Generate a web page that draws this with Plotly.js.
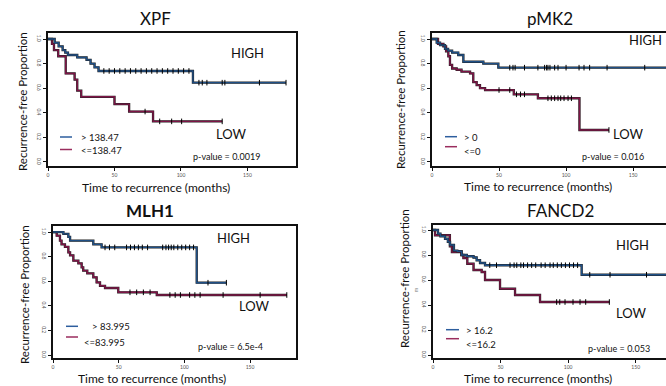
<!DOCTYPE html>
<html>
<head>
<meta charset="utf-8">
<script src="https://cdn.plot.ly/plotly-3.0.1.min.js"></script>
<style>
html,body{margin:0;padding:0;overflow:hidden;background:#fff;}
#chart{width:700px;height:386px;}
</style>
</head>
<body>
<div id="chart"></div>
<script>
// ---------------- data ----------------
const panelTitles = ["XPF", "pMK2", "MLH1", "FANCD2"];
const highLabels = ["> 138.47", "> 0", "> 83.995", "> 16.2"];
const lowLabels = ["<=138.47", "<=0", "<=83.995", "<=16.2"];
const pValues = ["p-value = 0.0019", "p-value = 0.016", "p-value = 6.5e-4", "p-value = 0.053"];
const xTicks = [0, 50, 100, 150];
const yTicks = [0, 0.2, 0.4, 0.6, 0.8, 1.0];
const yTickText = ["0.0", "0.2", "0.4", "0.6", "0.8", "1.0"];

// XPF
const xpfHighT = [0, 5, 8, 11, 13, 15, 22, 29, 32, 35, 38, 109, 179];
const xpfHighS = [1, 0.97, 0.94, 0.91, 0.89, 0.87, 0.85, 0.83, 0.80, 0.77, 0.74, 0.645, 0.645];
const xpfHighCens = [42, 46, 50, 54, 58, 62, 66, 70, 74, 78, 82, 86, 90, 94, 98, 102, 106, 113.5, 116, 119.5, 131, 133, 159, 179];
const xpfLowT = [0, 3, 4.5, 7.7, 13.3, 20, 22, 25, 50, 61, 79, 131];
const xpfLowS = [1, 0.96, 0.91, 0.86, 0.72, 0.67, 0.58, 0.53, 0.47, 0.41, 0.33, 0.33];
const xpfLowCens = [73, 84, 93, 100.5, 131];

// pMK2
const mk2HighT = [0, 3.5, 6, 9.7, 12, 15, 19.6, 23.4, 38.3, 49.5, 180];
const mk2HighS = [1, 0.97, 0.95, 0.92, 0.905, 0.89, 0.87, 0.815, 0.80, 0.767, 0.767];
const mk2HighCens = [58, 60.4, 62, 69, 79, 84, 85.5, 86.5, 88, 91.5, 94, 100, 109.7, 113.4, 117.6, 130.6, 158.7];
const mk2LowT = [0, 4.5, 8.5, 10.5, 12.2, 13.4, 15, 18.4, 22, 28.4, 30.8, 33.3, 35.8, 39.6, 61, 79, 110, 132];
const mk2LowS = [1, 0.96, 0.94, 0.90, 0.86, 0.79, 0.76, 0.75, 0.735, 0.72, 0.65, 0.625, 0.60, 0.585, 0.55, 0.518, 0.26, 0.26];
const mk2LowCens = [50, 58, 63, 66, 69, 86.5, 89, 91.5, 94, 96, 98.5, 101.5, 104, 132];

// MLH1
const mlhHighT = [0, 7.9, 11.7, 13, 30.7, 37, 109.4, 132];
const mlhHighS = [1, 0.985, 0.96, 0.93, 0.90, 0.875, 0.588, 0.588];
const mlhHighCens = [39.6, 43, 47, 56, 59, 62, 65, 68, 72, 83.5, 86, 88, 90, 92, 95, 98, 101, 104, 107, 118, 132];
const mlhLowT = [0, 2.8, 5.3, 6.5, 9.1, 11.7, 13, 15.5, 19.3, 21.8, 23, 26.1, 30.7, 33.2, 35.8, 39.6, 49.7, 79, 178];
const mlhLowS = [1, 0.97, 0.93, 0.90, 0.88, 0.834, 0.81, 0.767, 0.745, 0.713, 0.686, 0.664, 0.632, 0.59, 0.563, 0.545, 0.51, 0.488, 0.488];
const mlhLowCens = [58.6, 63.7, 68.8, 73.9, 89, 93, 97, 104, 108, 112, 129.5, 157.7, 178];

// FANCD2
const fanHighT = [0, 3.7, 5.5, 8.9, 11, 12.6, 15.5, 18, 21.2, 25, 30, 32.3, 34.8, 38.5, 110, 182];
const fanHighS = [1, 0.97, 0.95, 0.93, 0.905, 0.88, 0.835, 0.83, 0.80, 0.79, 0.78, 0.758, 0.736, 0.718, 0.642, 0.642];
const fanHighCens = [42, 47, 57, 60, 62, 65, 67, 70, 73, 76, 80, 83, 86.6, 89, 92, 95, 98, 101, 104, 107, 116, 131, 158];
const fanLowT = [0, 1.5, 12.5, 14, 21, 22.5, 25.4, 30, 36, 38.5, 49.6, 60.7, 79.2, 130.5];
const fanLowS = [1, 0.958, 0.87, 0.824, 0.80, 0.776, 0.73, 0.68, 0.664, 0.60, 0.53, 0.48, 0.424, 0.424];
const fanLowCens = [91.5, 93.8, 97.7, 103.6, 108.8, 113, 130.5];

// ---------------- drawing ----------------
const W = 700, H = 386;
const FONT = 'Lato, "Open Sans", sans-serif';
const BLUE = '#1f4f85', RED = '#7d1546';
const LEG_BLUE = '#2d5e9e', LEG_RED = '#9a2d5e';
const px = v => v / W;
const py = v => (H - v) / H;

function stepAt(ts, ss, t) {
  let s = ss[0];
  for (let i = 0; i < ts.length; i++) { if (ts[i] <= t) s = ss[i]; }
  return s;
}

const panels = [
  {hT: xpfHighT, hS: xpfHighS, hC: xpfHighCens, lT: xpfLowT, lS: xpfLowS, lC: xpfLowCens},
  {hT: mk2HighT, hS: mk2HighS, hC: mk2HighCens, lT: mk2LowT, lS: mk2LowS, lC: mk2LowCens},
  {hT: mlhHighT, hS: mlhHighS, hC: mlhHighCens, lT: mlhLowT, lS: mlhLowS, lC: mlhLowCens},
  {hT: fanHighT, hS: fanHighS, hC: fanHighCens, lT: fanLowT, lS: fanLowS, lC: fanLowCens}
];

// layout geometry in pixels (plot box left/right/top/bottom, x range, y range)
const geo = [
  {l: 48, r: 296, t: 33, b: 166, xr: [0, 186.5], yr: [-0.033, 1.049]},
  {l: 432, r: 682, t: 33, b: 166, xr: [0, 186.5], yr: [-0.033, 1.049]},
  {l: 53, r: 296, t: 226, b: 358, xr: [0, 185], yr: [-0.024, 1.049]},
  {l: 433, r: 683, t: 225, b: 358, xr: [0, 185], yr: [-0.024, 1.04]}
];

const traces = [];
panels.forEach((p, i) => {
  const xa = i === 0 ? 'x' : 'x' + (i + 1);
  const ya = i === 0 ? 'y' : 'y' + (i + 1);
  [[p.lT, p.lS, p.lC, RED], [p.hT, p.hS, p.hC, BLUE]].forEach(([T, S, C, col]) => {
    traces.push({x: T, y: S, xaxis: xa, yaxis: ya, mode: 'lines', line: {shape: 'hv', color: '#222', width: 2.3}, hoverinfo: 'skip', showlegend: false});
    traces.push({x: T, y: S, xaxis: xa, yaxis: ya, mode: 'lines', line: {shape: 'hv', color: col, width: 1.4}, showlegend: false});
    traces.push({x: C, y: C.map(t => stepAt(T, S, t)), xaxis: xa, yaxis: ya, mode: 'markers',
      marker: {symbol: 'line-ns-open', size: 4, color: '#000', line: {color: '#000', width: 1}}, showlegend: false});
  });
});

const layout = {
  width: W, height: H,
  margin: {l: 0, r: 0, t: 0, b: 0},
  paper_bgcolor: '#fff', plot_bgcolor: '#fff',
  font: {family: FONT, color: '#111'},
  showlegend: false,
  annotations: [], shapes: []
};

geo.forEach((g, i) => {
  const xk = i === 0 ? 'xaxis' : 'xaxis' + (i + 1);
  const yk = i === 0 ? 'yaxis' : 'yaxis' + (i + 1);
  const xa = i === 0 ? 'x' : 'x' + (i + 1);
  const ya = i === 0 ? 'y' : 'y' + (i + 1);
  layout[xk] = {domain: [px(g.l), px(g.r)], range: g.xr, anchor: ya,
    showline: true, linecolor: '#111', linewidth: 1.8, mirror: true,
    ticks: 'outside', ticklen: 3, tickwidth: 1, tickcolor: '#111',
    tickvals: xTicks, tickfont: {size: 5, color: '#555'},
    showgrid: false, zeroline: false, fixedrange: true};
  layout[yk] = {domain: [py(g.b), py(g.t)], range: g.yr, anchor: xa,
    showline: true, linecolor: '#111', linewidth: 1.8, mirror: true,
    ticks: 'outside', ticklen: 3, tickwidth: 1, tickcolor: '#111',
    tickvals: yTicks, ticktext: yTickText, tickangle: 90, tickfont: {size: 5, color: '#555'},
    showgrid: false, zeroline: false, fixedrange: true};
});

// text positions (pixels)
const titlePos = [[155, 18], [550, 18], [150, 211], [560, 211]];
const xTitlePos = [[156, 188], [538, 186], [152, 378], [538, 378]];
const yTitlePos = [[22, 102], [400, 100], [24, 295], [404, 279]];
const highPos = [[248, 53], [645, 40], [233, 238], [632, 244.5]];
const lowPos = [[231, 134], [628, 134], [254, 306], [631, 312.5]];
const pPos = [[226, 156.5], [613, 156.5], [230, 346], [619, 348.5]];
// legend: [lineX0, lineX1, blueY, redY, blueTextX, blueTextY, redTextX, redTextY]
const legPos = [
  [60, 72, 137, 149.5, 79, 137.5, 79, 151],
  [445, 457, 136.7, 146.7, 462, 137, 462, 151.7],
  [66, 78, 326.3, 337, 90, 326.5, 82, 342],
  [446, 459, 329.7, 338.7, 463.5, 330, 463.5, 344.7]
];

const A = layout.annotations, Sh = layout.shapes;
function txt(text, x, y, size, opts) {
  A.push(Object.assign({text: text, x: px(x), y: py(y), xref: 'paper', yref: 'paper',
    showarrow: false, xanchor: 'center', yanchor: 'middle',
    font: {family: FONT, size: size, color: '#111'}}, opts || {}));
}
panelTitles.forEach((t, i) => {
  txt(i === 2 ? '<b>' + t + '</b>' : t, titlePos[i][0], titlePos[i][1], 17);
  txt('Time to recurrence (months)', xTitlePos[i][0], xTitlePos[i][1], 12);
  txt('Recurrence-free Proportion', yTitlePos[i][0], yTitlePos[i][1], 11.5, {textangle: -90});
  txt('HIGH', highPos[i][0], highPos[i][1], 13);
  txt('LOW', lowPos[i][0], lowPos[i][1], 13);
  txt(pValues[i], pPos[i][0], pPos[i][1], 9);
  const L = legPos[i];
  Sh.push({type: 'line', xref: 'paper', yref: 'paper', x0: px(L[0]), x1: px(L[1]), y0: py(L[2]), y1: py(L[2]), line: {color: LEG_BLUE, width: 1.5}});
  Sh.push({type: 'line', xref: 'paper', yref: 'paper', x0: px(L[0]), x1: px(L[1]), y0: py(L[3]), y1: py(L[3]), line: {color: LEG_RED, width: 1.5}});
  txt(highLabels[i], L[4], L[5], 9.5, {xanchor: 'left'});
  txt(lowLabels[i], L[6], L[7], 9.5, {xanchor: 'left'});
});
// small stray mark next to the FANCD2 axis title
txt('m', 416, 290, 5, {textangle: -90, font: {family: FONT, size: 5, color: '#777'}});

Plotly.newPlot('chart', traces, layout, {displayModeBar: false, staticPlot: true});
</script>
</body>
</html>
